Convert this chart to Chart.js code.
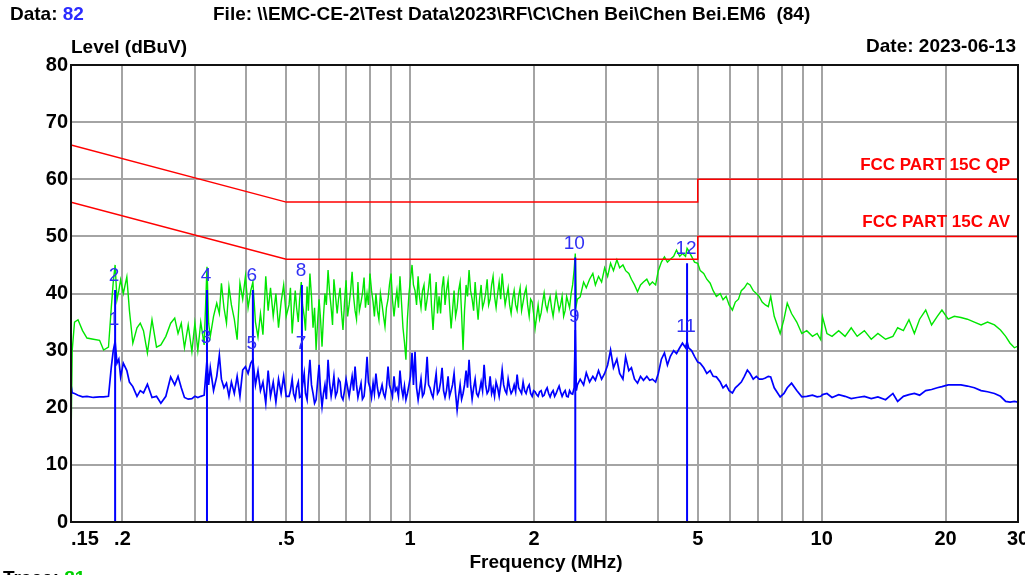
<!DOCTYPE html>
<html lang="en">
<head>
    <meta charset="UTF-8">
    <title>Conducted Emission - Chen Bei</title>
    <script src="https://cdn.jsdelivr.net/npm/chart.js"></script>
    <style>
        html, body { margin: 0; padding: 0; background: #fff; overflow: hidden; }
        #wrap { width: 1025px; height: 575px; }
    </style>
</head>
<body>
<div id="wrap"><canvas id="emiChart" width="1025" height="575"></canvas></div>

<script>
// scan frequencies (MHz)
const freqMHz = [
    0.150,0.151,0.153,0.156,0.160,0.164,0.170,0.176,0.180,0.185,
    0.188,0.190,0.192,0.194,0.196,0.198,0.201,0.205,0.208,0.212,
    0.217,0.221,0.225,0.230,0.236,0.242,0.248,0.255,0.262,0.268,
    0.273,0.278,0.283,0.289,0.295,0.300,
    0.305,0.310,0.316,0.321,0.324,0.327,0.333,0.339,0.344,0.348,
    0.353,0.358,0.363,0.368,0.374,0.380,0.386,0.392,0.398,0.404,
    0.410,0.415,0.421,0.427,0.433,0.439,0.446,0.452,0.458,0.465,
    0.472,0.479,0.486,0.493,0.500,
    0.508,0.512,0.517,0.521,0.526,0.530,0.535,0.539,0.544,0.548,0.553,0.557,0.562,0.566,0.571,0.576,0.581,0.586,0.591,0.596,
    0.601,0.606,0.611,0.616,0.621,0.626,0.632,0.637,0.643,0.648,0.653,0.659,0.665,0.670,0.676,0.681,0.687,0.693,0.699,0.705,
    0.711,0.717,0.723,0.729,0.735,0.741,0.747,0.753,0.760,0.766,0.773,0.779,0.786,0.792,0.799,0.806,0.813,0.819,0.826,0.833,
    0.840,0.847,0.855,0.862,0.869,0.876,0.884,0.891,0.899,0.906,0.914,0.921,0.929,0.937,0.945,0.953,0.961,0.969,0.977,0.985,
    0.994,1.002,1.011,1.019,1.028,1.037,1.046,1.054,1.063,1.072,1.081,1.090,1.100,1.109,1.118,1.127,1.137,1.147,1.157,1.166,
    1.176,1.186,1.196,1.206,1.216,1.226,1.237,1.247,1.258,1.268,1.279,1.290,1.301,1.312,1.323,1.334,1.345,1.356,1.368,1.379,
    1.391,1.403,1.415,1.427,1.439,1.451,1.463,1.475,1.488,1.500,1.513,1.526,1.539,1.552,1.565,1.578,1.591,1.604,1.618,1.632,
    1.646,1.660,1.674,1.688,1.702,1.716,1.731,1.745,1.760,1.775,1.790,1.805,1.820,1.835,1.851,1.866,1.882,1.898,1.914,1.930,
    1.947,1.963,1.980,1.996,2.013,2.030,2.047,2.064,2.082,2.099,2.117,2.135,2.153,2.171,2.189,2.207,2.226,2.245,2.264,2.283,
    2.302,2.321,2.341,2.361,2.381,2.401,2.421,2.441,2.462,2.483,2.504,2.520,2.535,
    2.55,2.59,2.64,2.68,2.73,2.78,2.82,2.87,2.92,2.97,
    3.02,3.07,3.12,3.18,3.23,3.29,3.34,3.40,3.45,3.51,
    3.57,3.63,3.69,3.76,3.82,3.88,3.95,4.01,4.08,4.15,
    4.22,4.29,4.37,4.44,4.52,4.59,4.67,4.71,4.75,4.83,
    4.91,5.00,
    5.07,5.17,5.26,5.36,5.45,5.55,5.67,5.76,5.86,5.96,
    6.07,6.17,6.28,6.38,6.49,6.60,6.70,6.82,6.94,7.05,
    7.17,7.30,7.42,7.52,7.67,7.93,8.10,8.25,8.45,8.70,
    8.95,9.20,9.50,9.75,9.95,10.05,10.3,10.6,11.0,11.4,
    11.8,12.2,12.7,13.2,13.7,14.3,14.9,15.3,15.8,16.3,
    16.8,17.3,17.9,18.5,19.1,19.6,20.3,21.0,21.8,22.6,
    23.5,24.4,25.3,26.3,27.2,28.0,28.7,29.4,30.0
];

// green trace - peak detector (dBuV)
const peakLevel = [
    13.5,30.0,35.0,35.4,33.5,32.2,32.0,31.8,30.1,30.6,
    37.7,42.0,45.0,38.9,40.5,42.4,40.0,42.9,37.0,31.3,
    34.0,34.8,33.5,29.6,35.4,30.6,31.0,32.5,34.8,35.7,
    33.0,34.8,30.5,34.5,29.8,34.8,
    30.0,35.0,31.0,44.7,34.8,32.5,36.0,38.3,36.5,41.8,
    37.5,34.8,41.2,38.0,35.5,31.9,41.8,39.0,43.0,37.5,
    40.5,42.0,35.0,32.4,36.5,32.8,43.0,37.0,41.0,36.0,
    40.0,34.0,38.5,41.5,36.0,
    38.0,41.0,33.0,36.5,40.5,37.5,35.0,39.0,42.0,38.0,36.0,33.5,41.2,37.0,43.5,39.5,34.0,37.5,30.1,35.0,
    39.0,35.5,30.7,36.0,40.0,38.0,44.1,40.5,37.5,34.5,42.5,39.5,36.5,39.0,41.0,37.0,33.6,38.5,42.3,36.0,
    38.0,40.5,43.8,39.5,37.0,35.5,42.0,37.0,38.5,40.0,42.8,37.5,40.0,38.0,43.5,40.5,38.5,36.0,40.0,37.0,
    35.4,40.0,38.0,36.0,34.2,37.5,39.0,41.5,43.5,39.0,36.0,38.5,40.5,37.5,43.0,38.5,34.0,31.5,28.4,35.5,
    40.0,42.5,45.0,41.5,40.5,38.0,43.0,39.5,37.5,40.5,41.5,37.0,39.0,41.0,43.5,38.0,33.6,38.5,42.0,36.5,
    39.5,36.5,41.0,43.0,38.0,40.5,42.3,38.0,33.9,37.0,40.5,36.0,37.5,40.5,42.0,36.5,30.1,37.0,41.5,39.5,
    44.1,40.5,39.0,37.0,42.0,38.5,35.4,39.0,41.5,37.5,38.5,40.0,42.5,38.0,39.0,41.5,43.0,39.5,37.5,40.0,
    42.0,39.0,43.5,40.5,38.0,39.5,41.0,38.0,36.5,39.0,40.5,38.0,37.0,39.5,41.0,37.0,38.5,40.0,41.0,38.0,
    36.0,39.0,38.5,36.5,33.9,36.0,38.0,35.5,36.6,38.5,40.1,38.0,37.0,38.5,39.5,37.5,36.0,38.0,40.0,38.5,
    37.0,38.0,39.5,36.0,37.0,39.5,38.5,37.5,40.0,41.5,44.1,47.0,38.0,
    39.0,39.4,42.0,41.0,42.5,43.5,41.5,43.0,42.0,44.5,
    43.0,45.3,44.0,45.9,44.5,45.0,44.0,43.5,42.5,41.5,
    40.3,41.5,42.0,42.5,41.5,42.0,41.5,44.0,45.5,46.4,
    45.5,46.0,46.5,47.6,46.5,47.0,46.5,47.9,47.5,46.5,
    45.5,45.3,
    44.0,43.5,42.5,41.8,40.5,39.5,40.0,38.9,39.5,38.0,
    37.1,38.5,39.0,40.5,41.0,41.8,41.5,40.5,40.0,39.5,
    38.5,38.0,37.7,39.5,36.0,33.0,35.5,38.3,36.5,35.0,
    33.0,33.5,32.5,33.0,31.9,35.9,33.0,32.5,33.5,32.5,
    34.0,32.5,33.5,32.0,33.0,32.0,32.5,34.0,33.5,35.4,
    33.0,35.5,37.1,34.5,36.0,37.1,35.5,36.0,35.8,35.5,
    35.0,34.5,35.0,34.5,33.6,32.5,31.3,30.5,30.8
];

// blue trace - average detector (dBuV)
const avgLevel = [
    24.0,22.6,22.5,22.2,21.9,22.0,21.8,21.9,21.9,22.0,
    27.2,30.0,31.6,27.8,28.5,25.4,27.8,26.5,24.5,23.7,
    22.0,23.0,22.6,24.1,21.8,22.0,20.8,22.0,25.4,24.0,
    25.5,23.5,21.8,21.5,21.6,22.0,
    21.8,22.0,22.2,28.4,24.0,27.0,23.0,25.5,29.2,25.0,
    23.5,24.3,22.0,24.5,22.5,25.5,22.0,26.6,27.2,26.0,
    27.8,28.4,24.0,26.5,23.0,24.5,20.8,26.5,22.0,24.5,
    21.0,25.0,22.5,25.5,22.0,
    22.0,23.0,25.0,22.5,21.5,23.5,24.5,21.8,22.0,24.0,26.0,22.5,21.4,25.0,28.4,24.0,22.5,20.8,21.4,24.5,
    27.5,23.0,20.2,22.5,24.0,21.5,28.4,24.5,22.0,23.5,25.5,22.0,22.8,25.0,24.5,22.0,21.4,23.0,25.0,23.5,
    22.0,23.8,25.5,23.0,27.2,24.0,21.8,23.0,24.3,21.5,22.0,24.5,28.9,24.5,23.5,21.8,24.3,22.5,26.0,23.5,
    22.0,22.8,24.0,22.5,21.8,23.5,27.2,24.0,23.0,22.0,25.5,23.0,23.5,22.0,26.5,23.5,22.0,23.8,21.4,22.5,
    24.0,25.5,29.6,24.0,29.8,23.5,21.4,23.0,25.0,22.0,22.5,24.5,28.9,24.0,23.5,22.5,21.8,24.0,26.0,22.5,
    23.0,24.5,27.0,23.0,21.8,23.0,25.5,22.0,23.0,24.0,26.0,22.5,19.6,22.0,24.0,21.5,22.5,24.0,26.5,23.5,
    28.4,24.0,21.5,23.5,25.0,22.5,22.0,23.0,24.5,23.0,27.5,24.0,22.5,23.0,25.5,22.5,23.5,22.0,24.5,23.5,
    22.0,24.0,26.6,24.0,23.0,22.5,25.0,23.5,22.5,23.0,24.0,22.8,25.8,23.5,23.0,22.5,24.5,23.0,22.5,23.5,
    24.0,22.5,22.0,23.0,22.8,22.3,22.0,22.8,23.0,22.0,22.2,23.0,23.5,22.5,21.9,22.6,23.0,22.0,22.5,23.2,
    23.8,22.8,22.0,22.6,23.0,22.0,21.9,23.0,22.5,22.4,23.5,33.6,23.0,
    24.0,25.0,24.0,26.1,24.5,25.5,24.8,26.5,25.0,26.0,
    27.5,30.1,27.0,28.5,26.0,25.0,28.9,26.5,27.0,25.0,
    24.3,25.5,24.8,25.5,24.8,25.0,24.5,26.0,28.5,29.6,
    27.5,29.0,30.0,29.5,30.5,31.3,30.5,31.6,30.5,30.0,
    29.0,28.0,
    27.8,27.0,26.0,26.5,25.5,25.4,24.5,23.5,24.0,23.0,
    22.6,23.5,24.0,24.5,25.5,26.6,26.0,25.0,25.5,25.0,
    25.0,25.2,25.5,25.4,23.5,21.9,22.5,23.5,24.3,23.0,
    21.9,22.0,22.2,21.9,22.0,22.3,22.5,21.8,22.3,22.0,
    21.6,21.8,22.0,21.6,21.9,21.4,22.5,21.1,22.0,22.3,
    22.5,22.2,23.0,23.2,23.5,23.7,24.0,24.0,24.0,23.8,
    23.5,23.0,22.8,22.5,22.0,21.1,21.0,21.1,21.0
];

// FCC part 15C limits
const limitFreq = [0.15, 0.5, 5, 5, 30];
const qpLimit   = [66, 56, 56, 60, 60];
const avLimit   = [56, 46, 46, 50, 50];

// markers
const markerNo    = ['1','2','3','4','5','6','7','8','9','10','11','12'];
const markerFreq  = [0.192,0.192,0.321,0.321,0.415,0.415,0.546,0.546,2.52,2.52,4.71,4.71];
const markerLevel = [33.0,40.6,29.8,40.6,28.8,40.6,28.8,41.5,33.4,46.3,31.7,45.3];

// axes
const xGridValues  = [0.15,0.2,0.3,0.4,0.5,0.6,0.7,0.8,0.9,1,2,3,4,5,6,7,8,9,10,20,30];
const xLabelValues = [0.15,0.2,0.5,1,2,5,10,20,30];
const xLabelText   = ['.15','.2','.5','1','2','5','10','20','30'];

const FONT = '"Liberation Sans", Arial, sans-serif';

const toPoints = (xs, ys) => xs.map((v, i) => ({ x: v, y: ys[i] }));

const markerPoints = [];
markerFreq.forEach((f, i) => {
    markerPoints.push({ x: f, y: 0 }, { x: f, y: markerLevel[i] }, { x: f, y: null });
});

// texts, frame and marker numbers
const decorPlugin = {
    id: 'decor',
    afterDraw(chart) {
        const { ctx, chartArea: a, scales: { x, y } } = chart;
        ctx.save();

        ctx.strokeStyle = '#111';
        ctx.lineWidth = 2;
        ctx.strokeRect(a.left, a.top, a.right - a.left, a.bottom - a.top);

        ctx.textBaseline = 'middle';
        ctx.fillStyle = '#000';
        ctx.font = 'bold 20px ' + FONT;
        xLabelValues.forEach((v, i) => {
            ctx.textAlign = i === 0 ? 'left' : 'center';
            ctx.fillText(xLabelText[i], x.getPixelForValue(v), a.bottom + 17);
        });

        // marker numbers
        ctx.font = '19px ' + FONT;
        ctx.fillStyle = '#3030f4';
        ctx.textAlign = 'center';
        markerNo.forEach((n, i) => {
            ctx.fillText(n, x.getPixelForValue(markerFreq[i]) - 1, y.getPixelForValue(markerLevel[i]) - 14);
        });

        // limit names
        ctx.font = 'bold 17px ' + FONT;
        ctx.fillStyle = '#ff0000';
        ctx.textAlign = 'right';
        ctx.fillText('FCC PART 15C QP', a.right - 8, y.getPixelForValue(qpLimit[4]) - 14);
        ctx.fillText('FCC PART 15C AV', a.right - 8, y.getPixelForValue(avLimit[4]) - 14);

        // header / footer
        ctx.font = 'bold 19px ' + FONT;
        ctx.textAlign = 'left';
        ctx.fillStyle = '#000';
        ctx.fillText('Data: ', 10, 15);
        let w = ctx.measureText('Data: ').width;
        ctx.fillStyle = '#2b2bff';
        ctx.fillText('82', 10 + w, 15);

        ctx.fillStyle = '#000';
        ctx.fillText('File: \\\\EMC-CE-2\\Test Data\\2023\\RF\\C\\Chen Bei\\Chen Bei.EM6  (84)', 213, 15);
        ctx.fillText('Level (dBuV)', 71, 48);
        ctx.textAlign = 'right';
        ctx.fillText('Date: 2023-06-13', 1016, 47);
        ctx.textAlign = 'center';
        ctx.fillText('Frequency (MHz)', 546, 563);

        ctx.textAlign = 'left';
        ctx.fillText('Trace: ', 3, 579);
        w = ctx.measureText('Trace: ').width;
        ctx.fillStyle = '#00d000';
        ctx.fillText('81', 3 + w, 579);

        ctx.restore();
    }
};

new Chart(document.getElementById('emiChart'), {
    type: 'line',
    data: {
        datasets: [
            {
                label: 'Markers',
                data: markerPoints,
                borderColor: '#0000ff',
                borderWidth: 2,
                pointRadius: 0,
                spanGaps: false,
                order: 0
            },
            {
                label: 'FCC PART 15C QP',
                data: toPoints(limitFreq, qpLimit),
                borderColor: '#ff0000',
                borderWidth: 1.5,
                pointRadius: 0,
                order: 1
            },
            {
                label: 'FCC PART 15C AV',
                data: toPoints(limitFreq, avLimit),
                borderColor: '#ff0000',
                borderWidth: 1.5,
                pointRadius: 0,
                order: 1
            },
            {
                label: 'Average',
                data: toPoints(freqMHz, avgLevel),
                borderColor: '#0000ff',
                borderWidth: 1.7,
                pointRadius: 0,
                order: 2
            },
            {
                label: 'Peak',
                data: toPoints(freqMHz, peakLevel),
                borderColor: '#00e600',
                borderWidth: 1.4,
                pointRadius: 0,
                order: 3
            }
        ]
    },
    options: {
        responsive: false,
        animation: false,
        layout: { padding: { top: 65, right: 7, left: 0, bottom: 0 } },
        plugins: { legend: { display: false }, tooltip: { enabled: false } },
        scales: {
            x: {
                type: 'logarithmic',
                min: 0.15,
                max: 30,
                afterBuildTicks: (s) => { s.ticks = xGridValues.map(v => ({ value: v })); },
                afterFit: (s) => { s.height = 53; },
                ticks: { display: false },
                grid: { color: '#a4a4a4', lineWidth: 2, drawTicks: false },
                border: { display: false }
            },
            y: {
                min: 0,
                max: 80,
                afterFit: (s) => { s.width = 71; },
                ticks: {
                    stepSize: 10,
                    padding: 3,
                    color: '#000',
                    font: { family: FONT, size: 20, weight: 'bold' }
                },
                grid: { color: '#a4a4a4', lineWidth: 2, drawTicks: false },
                border: { display: false }
            }
        }
    },
    plugins: [decorPlugin]
});
</script>
</body>
</html>
